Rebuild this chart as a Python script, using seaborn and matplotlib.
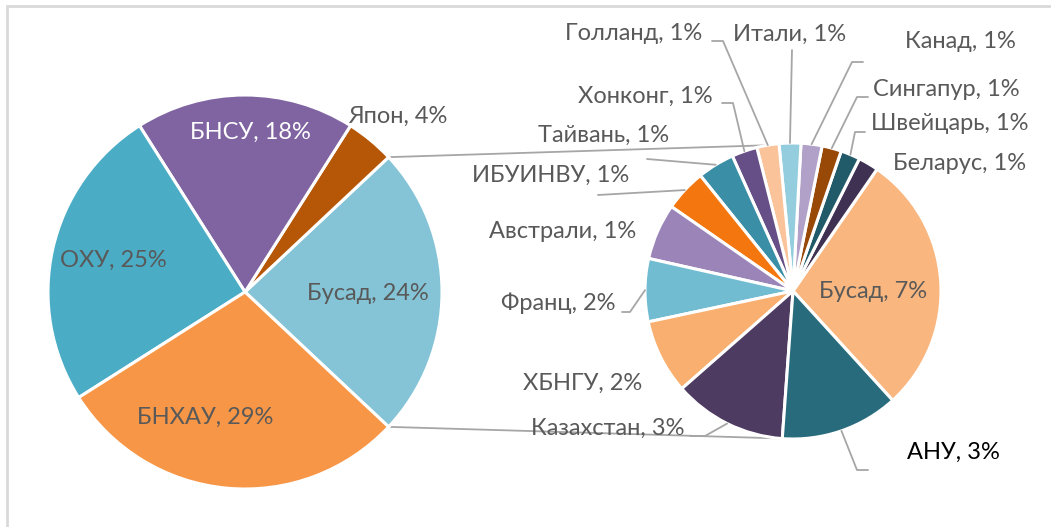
import numpy as np
import matplotlib
matplotlib.use("Agg")
import matplotlib.pyplot as plt
import seaborn as sns

# ---- data -------------------------------------------------------------
main_labels = ["Бусад", "Япон", "БНСУ", "ОХУ", "БНХАУ"]
main_values = [24.0, 4.0, 18.0, 25.0, 29.0]

other_labels = ["Бусад", "Беларус", "Швейцарь", "Сингапур", "Канад", "Итали",
                "Голланд", "Хонконг", "Тайвань", "ИБУИНВУ", "Австрали",
                "Франц", "ХБНГУ", "Казахстан", "АНУ"]
other_values = [6.87, 0.53, 0.51, 0.51, 0.55, 0.57,
                0.58, 0.67, 0.97, 1.10, 1.47,
                1.65, 1.95, 2.97, 3.10]

main_colors = ["#84C4D6", "#B65708", "#8064A2", "#4BACC6", "#F79646"]
other_colors = ["#F9B77F", "#3F3151", "#215A68", "#984807", "#B1A0C7", "#93CDDE",
                "#FBC39A", "#664F86", "#3A8EA5", "#F3760F", "#9A84B8",
                "#71BCD0", "#F9AF6F", "#4E3B62", "#276B7C"]

# ---- layout (pixel coordinates, y measured from the top) --------------
W, H = 1051, 527
C1, R1 = (245, 292), 197
C2, R2 = (793, 291), 148
PIE2_TOP_EDGE = 55.4          # upper edge angle of the "Бусад" wedge in pie 2

TEXT = "#595959"
LINE = "#A6A6A6"

main_pos = {
    "Бусад": (368, 293, TEXT), "Япон": (398, 116, TEXT), "БНСУ": (250, 132, "white"),
    "ОХУ": (113, 260, TEXT), "БНХАУ": (205, 417, TEXT),
}
other_pos = {
    "Бусад": (873, 291, TEXT), "Беларус": (960, 164, TEXT), "Швейцарь": (950, 124, TEXT),
    "Сингапур": (946, 89, TEXT), "Канад": (960, 42, TEXT), "Итали": (790, 34, TEXT),
    "Голланд": (634, 34, TEXT), "Хонконг": (645, 96, TEXT), "Тайвань": (604, 135, TEXT),
    "ИБУИНВУ": (551, 175, TEXT), "Австрали": (563, 231, TEXT), "Франц": (558, 303, TEXT),
    "ХБНГУ": (583, 383, TEXT), "Казахстан": (608, 428, TEXT), "АНУ": (953, 452, "black"),
}
# leader-line elbows from the label side toward the wedge rim
leaders = {
    "Голланд": [(712, 41), (723, 41)],
    "Итали": [(792, 50)],
    "Канад": [(863, 62), (852, 62)],
    "Сингапур": [(868, 97), (857, 97)],
    "Швейцарь": [(865, 132), (855, 132)],
    "Хонконг": [(722, 103), (733, 103)],
    "Тайвань": [(647, 159)],
    "ИБУИНВУ": [(598, 195)],
    "Франц": [(622, 312), (630, 312)],
    "Казахстан": [(690, 436), (705, 436)],
    "АНУ": [(868, 470), (857, 470)],
}


def P(x, y):
    return x, H - y


sns.set_theme(style="white")
plt.rcParams["font.family"] = ["Lato", "DejaVu Sans"]

fig = plt.figure(figsize=(W / 100, H / 100), dpi=100)
ax = fig.add_axes([0, 0, 1, 1])

wedge_kw = dict(edgecolor="white", linewidth=2.2)

main_pal = sns.color_palette(main_colors)
other_pal = sns.color_palette(other_colors)

start1 = -main_values[0] / sum(main_values) * 360 / 2
w1, _ = ax.pie(main_values, colors=main_pal, startangle=start1, counterclock=True,
               center=P(*C1), radius=R1, wedgeprops=wedge_kw, frame=True)

start2 = PIE2_TOP_EDGE - other_values[0] / sum(other_values) * 360
w2, _ = ax.pie(other_values, colors=other_pal, startangle=start2, counterclock=True,
               center=P(*C2), radius=R2, wedgeprops=wedge_kw, frame=True)

ax.set_xlim(0, W)
ax.set_ylim(0, H)
ax.set_aspect("equal")
ax.axis("off")


def rim(center, r, ang):
    cx, cy = P(*center)
    a = np.deg2rad(ang)
    return cx + r * np.cos(a), cy + r * np.sin(a)


# connector lines between the two pies
bw = w1[0]
for a1, a2 in [(bw.theta2, 100.0), (bw.theta1, 265.0)]:
    x0, y0 = rim(C1, R1, a1)
    x1, y1 = rim(C2, R2, a2)
    ax.plot([x0, x1], [y0, y1], color=LINE, lw=1.3, zorder=0)

FS = 17
for lab, val in zip(main_labels, main_values):
    x, y, c = main_pos[lab]
    ax.text(*P(x, y), f"{lab}, {val:.0f}%", ha="center", va="center",
            fontsize=FS, color=c)

for lab, val, wd in zip(other_labels, other_values, w2):
    x, y, c = other_pos[lab]
    ax.text(*P(x, y), f"{lab}, {val:.0f}%", ha="center", va="center",
            fontsize=FS, color=c)
    if lab in leaders:
        mid = (wd.theta1 + wd.theta2) / 2
        pts = [P(px, py) for px, py in leaders[lab]] + [rim(C2, R2, mid)]
        xs, ys = zip(*pts)
        ax.plot(xs, ys, color=LINE, lw=1.3, zorder=3)

# chart area border
ax.plot([7, 7, W], [0, H - 6, H - 6], color="#D9D9D9", lw=2, solid_joinstyle="miter")

fig.savefig("out.png", dpi=100)
